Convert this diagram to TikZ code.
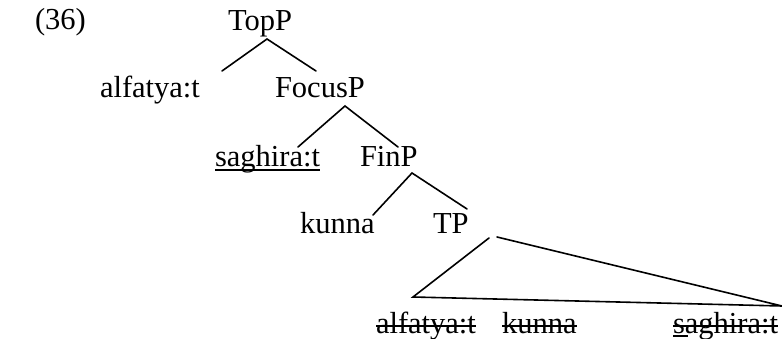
\documentclass[tikz,border=0pt]{standalone}
\usepackage{fontspec}
\setmainfont{Liberation Serif}
\begin{document}
\begin{tikzpicture}[x=1pt,y=-1pt,
  lbl/.style={inner sep=0pt,outer sep=0pt,anchor=base west,font=\fontsize{30.5}{36}\selectfont},
  br/.style={line width=1.6pt,line cap=round},
  strike/.style={line width=1.5pt},
  uline/.style={line width=1.7pt}]
\useasboundingbox (0,0) rectangle (782,339);
\node[lbl] (ex) at (35,30) {(36)};
\node[lbl] (top) at (228,31) {TopP};
\node[lbl] (alf) at (100,98) {alfatya:t};
\node[lbl] (foc) at (275,98) {FocusP};
\node[lbl] (sag) at (215,167) {saghira:t};
\node[lbl] (fin) at (360,167) {FinP};
\node[lbl] (kun) at (300,234) {kunna};
\node[lbl] (tp) at (433,234) {TP};
\node[lbl] (alf2) at (376,333) {alfatya:t};
\node[lbl] (kun2) at (502,333) {kunna};
\node[lbl] (sag2) at (673,333) {saghira:t};
% branch points
\coordinate (topA) at (267,39);
\coordinate (topL) at (222,71);
\coordinate (topR) at (316,71);
\coordinate (focA) at (345,106);
\coordinate (focL) at (298,147);
\coordinate (focR) at (398,147);
\coordinate (finA) at (412,173);
\coordinate (finL) at (373,215);
\coordinate (finR) at (467,209);
\coordinate (triL1) at (489,238);
\coordinate (triR1) at (497,237);
\coordinate (triBL) at (413,297);
\coordinate (triBR) at (782,306);
\draw[br] (topL) -- (topA) -- (topR);
\draw[br] (focL) -- (focA) -- (focR);
\draw[br] (finL) -- (finA) -- (finR);
\draw[br] (triL1) -- (triBL) -- (triBR) -- (triR1);
% underline and strikes
\draw[uline] ([yshift=-3pt]sag.base west) -- ([yshift=-3pt]sag.base east);
\draw[strike] ([yshift=7pt]alf2.base west) -- ([yshift=7pt]alf2.base east);
\draw[strike] ([yshift=7pt]kun2.base west) -- ([yshift=7pt]kun2.base east);
\draw[strike] ([yshift=7pt]sag2.base west) -- ([yshift=7pt]sag2.base east);
\draw[uline] ([yshift=-3pt]sag2.base west) -- ([xshift=15pt,yshift=-3pt]sag2.base west);
\end{tikzpicture}
\end{document}
